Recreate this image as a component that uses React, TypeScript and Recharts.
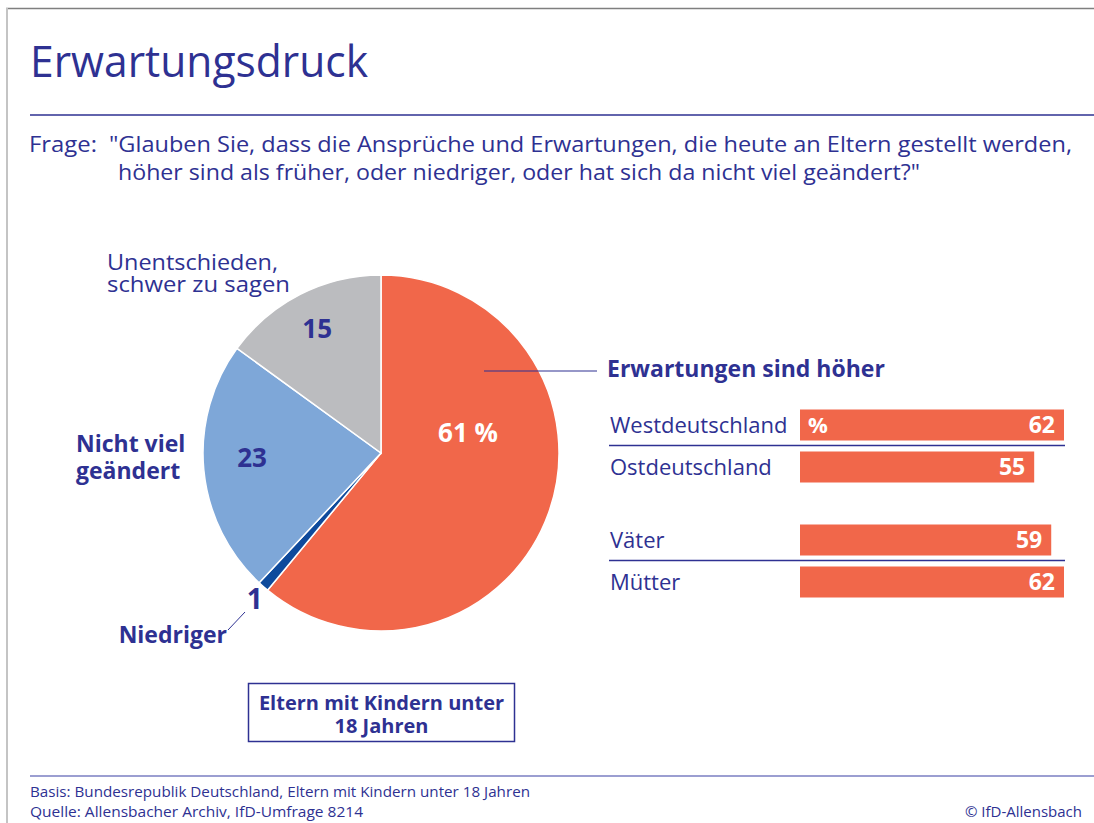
import React from "react";
import { PieChart, Pie, Cell, BarChart, Bar, XAxis, YAxis, LabelList } from "recharts";

// ---------- data ----------
const pieNames = ["Erwartungen sind höher", "Niedriger", "Nicht viel geändert", "Unentschieden, schwer zu sagen"];
const pieValues = [61, 1, 23, 15];
const pieColors = ["#f1674a", "#0e4a9c", "#7ea7d8", "#bbbcbf"];

const regionCategories = ["Westdeutschland", "Ostdeutschland"];
const regionValues = [62, 55];
const parentCategories = ["Väter", "Mütter"];
const parentValues = [59, 62];
const unitLabels = ["%", ""];

const title = "Erwartungsdruck";
const questionLabel = "Frage:";
const questionLine1 = "\"Glauben Sie, dass die Ansprüche und Erwartungen, die heute an Eltern gestellt werden,";
const questionLine2 = "höher sind als früher, oder niedriger, oder hat sich da nicht viel geändert?\"";
const boxLines = ["Eltern mit Kindern unter", "18 Jahren"];
const basisText = "Basis: Bundesrepublik Deutschland, Eltern mit Kindern unter 18 Jahren";
const sourceText = "Quelle: Allensbacher Archiv, IfD-Umfrage 8214";
const copyrightText = "© IfD-Allensbach";

// ---------- style ----------
const NAVY = "#2e3192";
const FONT = "'Open Sans', 'DejaVu Sans', sans-serif";

const pieData = pieNames.map((name, i) => ({ name, value: pieValues[i] }));
const regionData = regionCategories.map((name, i) => ({ name, value: regionValues[i], unit: unitLabels[i] }));
const parentData = parentCategories.map((name, i) => ({ name, value: parentValues[i], unit: "" }));

// label placement: polar offsets (deg, fraction of radius) for value text
const valueLabelPolar = [
  { angle: 13.6, r: 0.503, color: "#ffffff", suffix: " %" },
  { angle: 229, r: 1.08, color: NAVY, suffix: "" },
  { angle: 181.8, r: 0.725, color: NAVY, suffix: "" },
  { angle: 117, r: 0.79, color: NAVY, suffix: "" },
];

const RAD = Math.PI / 180;

const renderPieLabel = (props: any) => {
  const { cx, cy, outerRadius, index, value, name } = props;
  const pl = valueLabelPolar[index];
  const vx = cx + Math.cos(pl.angle * RAD) * outerRadius * pl.r;
  const vy = cy - Math.sin(pl.angle * RAD) * outerRadius * pl.r;
  const valueText = (
    <text
      x={vx}
      y={vy}
      textAnchor="middle"
      dominantBaseline="central"
      fill={pl.color}
      fontFamily={FONT}
      fontWeight={700}
      fontSize={index === 1 ? 28 : 26}
    >
      {value + pl.suffix}
    </text>
  );
  let nameEl: any = null;
  if (index === 0) {
    nameEl = (
      <g>
        <line x1={cx + 103} y1={cy - 82} x2={cx + 216} y2={cy - 82} stroke={NAVY} strokeWidth={1.2} />
        <text x={cx + 226} y={cy - 76} fill={NAVY} fontFamily={FONT} fontWeight={700} fontSize={23}>
          {name}
        </text>
      </g>
    );
  } else if (index === 1) {
    nameEl = (
      <g>
        <line x1={cx - 153} y1={cy + 177} x2={cx - 136} y2={cy + 159} stroke={NAVY} strokeWidth={1} />
        <text x={cx - 154} y={cy + 190} textAnchor="end" fill={NAVY} fontFamily={FONT} fontWeight={700} fontSize={23}>
          {name}
        </text>
      </g>
    );
  } else if (index === 2) {
    const parts = ["Nicht viel", "geändert"];
    nameEl = (
      <text fill={NAVY} fontFamily={FONT} fontWeight={700} fontSize={23}>
        {parts.map((p, i) => (
          <tspan key={i} x={cx - 305} y={cy - 1 + i * 27}>
            {p}
          </tspan>
        ))}
      </text>
    );
  } else {
    const parts = ["Unentschieden,", "schwer zu sagen"];
    const lens = [171, 183];
    nameEl = (
      <g>
        {parts.map((p, i) => (
          <text
            key={i}
            x={cx - 274}
            y={cy - 183 + i * 22}
            fill={NAVY}
            fontFamily={FONT}
            fontWeight={400}
            fontSize={22}
            textLength={lens[i]}
            lengthAdjust="spacingAndGlyphs"
          >
            {p}
          </text>
        ))}
      </g>
    );
  }
  return (
    <g>
      {valueText}
      {nameEl}
    </g>
  );
};

const BAND = 42;

const CategoryTick = (props: any) => {
  const { y, payload, index } = props;
  return (
    <g>
      <text x={10} y={y + 8.5} fill={NAVY} fontFamily={FONT} fontSize={22}>
        {payload.value}
      </text>
      {index === 0 ? (
        <line x1={9} y1={y + BAND / 2} x2={465} y2={y + BAND / 2} stroke={NAVY} strokeWidth={1.5} />
      ) : null}
    </g>
  );
};

const SmallBarChart = ({ data, top }: { data: any[]; top: number }) => (
  <div style={{ position: "absolute", left: 600, top, width: 494, height: 90 }}>
    <BarChart
      width={494}
      height={90}
      data={data}
      layout="vertical"
      margin={{ top: 3.5, right: 30, bottom: 2.5, left: 0 }}
      barCategoryGap={11}
    >
      <XAxis type="number" dataKey="value" domain={[0, 62]} hide />
      <YAxis
        type="category"
        dataKey="name"
        width={200}
        axisLine={false}
        tickLine={false}
        tick={<CategoryTick />}
        interval={0}
      />
      <Bar dataKey="value" fill="#f1674a" barSize={31} isAnimationActive={false}>
        <LabelList
          dataKey="value"
          position="insideRight"
          offset={9}
          fill="#ffffff"
          fontFamily={FONT}
          fontWeight={700}
          fontSize={23}
        />
        <LabelList
          dataKey="unit"
          position="insideLeft"
          offset={8}
          fill="#ffffff"
          fontFamily={FONT}
          fontWeight={700}
          fontSize={22}
        />
      </Bar>
    </BarChart>
  </div>
);

export default function App() {
  return (
    <div style={{ position: "relative", width: 1094, height: 823, background: "#ffffff", overflow: "hidden" }}>
      <style>{"body{margin:0;}"}</style>
      <svg width={1094} height={823} style={{ position: "absolute", left: 0, top: 0 }}>
        {/* frame */}
        <line x1={6} y1={8.5} x2={1094} y2={8.5} stroke="#7f7f7f" strokeWidth={1.5} />
        <line x1={7} y1={8} x2={7} y2={823} stroke="#c4c4c4" strokeWidth={2} />
        {/* title */}
        <text x={30} y={77} fill={NAVY} fontFamily={FONT} fontSize={43} textLength={338} lengthAdjust="spacingAndGlyphs">
          {title}
        </text>
        <line x1={30} y1={115} x2={1094} y2={115} stroke={NAVY} strokeWidth={1.5} />
        {/* question */}
        <text x={29} y={152} fill={NAVY} fontFamily={FONT} fontSize={22} textLength={68} lengthAdjust="spacingAndGlyphs">
          {questionLabel}
        </text>
        <text x={109} y={152} fill={NAVY} fontFamily={FONT} fontSize={22} textLength={963} lengthAdjust="spacingAndGlyphs">
          {questionLine1}
        </text>
        <text x={118} y={180} fill={NAVY} fontFamily={FONT} fontSize={22} textLength={802} lengthAdjust="spacingAndGlyphs">
          {questionLine2}
        </text>
        {/* box */}
        <rect x={248.5} y={683.5} width={266} height={58} fill="#ffffff" stroke={NAVY} strokeWidth={1.5} />
        {boxLines.map((t, i) => (
          <text key={i} x={381.5} y={710 + i * 23} textAnchor="middle" fill={NAVY} fontFamily={FONT} fontWeight={700} fontSize={20}>
            {t}
          </text>
        ))}
        {/* footer */}
        <line x1={30} y1={776} x2={1094} y2={776} stroke="#7a7ec2" strokeWidth={1.5} />
        <text x={30} y={797} fill={NAVY} fontFamily={FONT} fontSize={15} textLength={500} lengthAdjust="spacingAndGlyphs">
          {basisText}
        </text>
        <text x={30} y={817} fill={NAVY} fontFamily={FONT} fontSize={15} textLength={333} lengthAdjust="spacingAndGlyphs">
          {sourceText}
        </text>
        <text x={1082} y={817} textAnchor="end" fill={NAVY} fontFamily={FONT} fontSize={15}>
          {copyrightText}
        </text>
      </svg>
      <div style={{ position: "absolute", left: 0, top: 0, width: 1094, height: 823 }}>
        <PieChart width={1094} height={823} margin={{ top: 0, right: 0, bottom: 0, left: 0 }}>
          <Pie
            data={pieData}
            dataKey="value"
            nameKey="name"
            cx={381}
            cy={453}
            outerRadius={178}
            startAngle={90}
            endAngle={-270}
            stroke="#ffffff"
            strokeWidth={1.5}
            label={renderPieLabel}
            labelLine={false}
            isAnimationActive={false}
          >
            {pieData.map((d, i) => (
              <Cell key={d.name} fill={pieColors[i]} />
            ))}
          </Pie>
        </PieChart>
      </div>
      <SmallBarChart data={regionData} top={400} />
      <SmallBarChart data={parentData} top={515} />
    </div>
  );
}
